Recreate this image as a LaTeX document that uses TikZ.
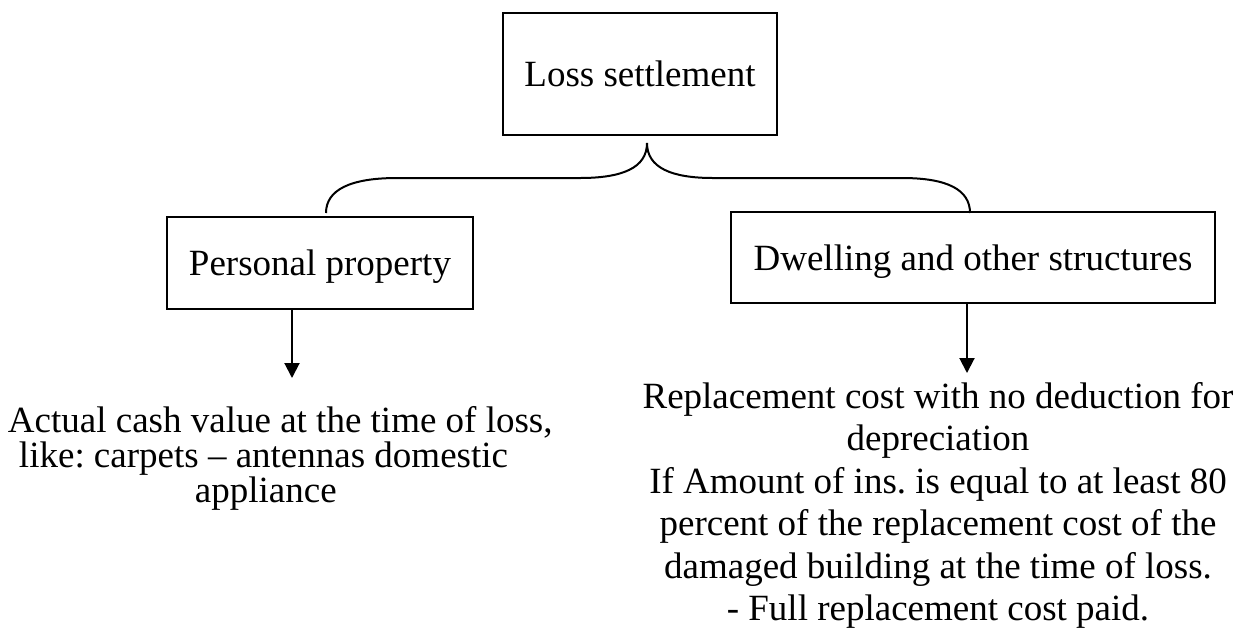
\documentclass[tikz,border=0pt]{standalone}
\usepackage{fontspec}
\setmainfont{Liberation Serif}
\frenchspacing
\usetikzlibrary{arrows.meta}
\tikzset{>={Triangle[width=15pt,length=15pt]}, line width=2pt}

\begin{document}
\begin{tikzpicture}[x=1pt,y=-1pt,line width=2pt,
  box/.style={draw,inner sep=0pt,text depth=0pt,font=\fontsize{37}{44}\selectfont},
  note/.style={inner sep=0pt,anchor=base}]
  \useasboundingbox (0,0) rectangle (1242,633);
  \def\bracey{178}

  % Loss settlement
  \node[box,minimum width=274pt,minimum height=122pt] (loss) at (640,74) {Loss settlement};

  % the two kinds of property
  \node[box,minimum width=306pt,minimum height=92pt] (pers) at (320,263) {Personal property};
  \node[box,minimum width=484pt,minimum height=91pt] (dwel) at (973,257.5) {Dwelling and other structures};

  % brace
  \coordinate (tip) at (647,143);
  \coordinate (bl) at (326,213);
  \coordinate (br) at (970,213);
  \draw (tip) .. controls (647,168) and (622,\bracey) .. (580,\bracey) -- (397,\bracey)
    .. controls (350,\bracey) and (326,190) .. (bl);
  \draw (tip) .. controls (647,168) and (672,\bracey) .. (713,\bracey) -- (902,\bracey)
    .. controls (948,\bracey) and (970,190) .. (br);

  % settlements (base = baseline of the last line)
  \node[note,anchor=base west,align=left,font=\fontsize{37}{35}\selectfont] (cash) at (7,502)
    {Actual cash value at the time of loss,\\
     \hspace*{11pt}like: carpets – antennas domestic\\
     \hspace*{187pt}appliance};
  \node[note,align=center,font=\fontsize{37}{42.5}\selectfont] (repl) at (938,620.5)
    {Replacement cost with no deduction for\\
     depreciation\\
     If Amount of ins. is equal to at least 80\\
     percent of the replacement cost of the\\
     damaged building at the time of loss.\\
     - Full replacement cost paid.};

  \coordinate (pa) at (292,378);
  \coordinate (da) at (967,373);
  \draw[->] (pers.south -| pa) -- (pa);
  \draw[->] (dwel.south -| da) -- (da);
\end{tikzpicture}
\end{document}
